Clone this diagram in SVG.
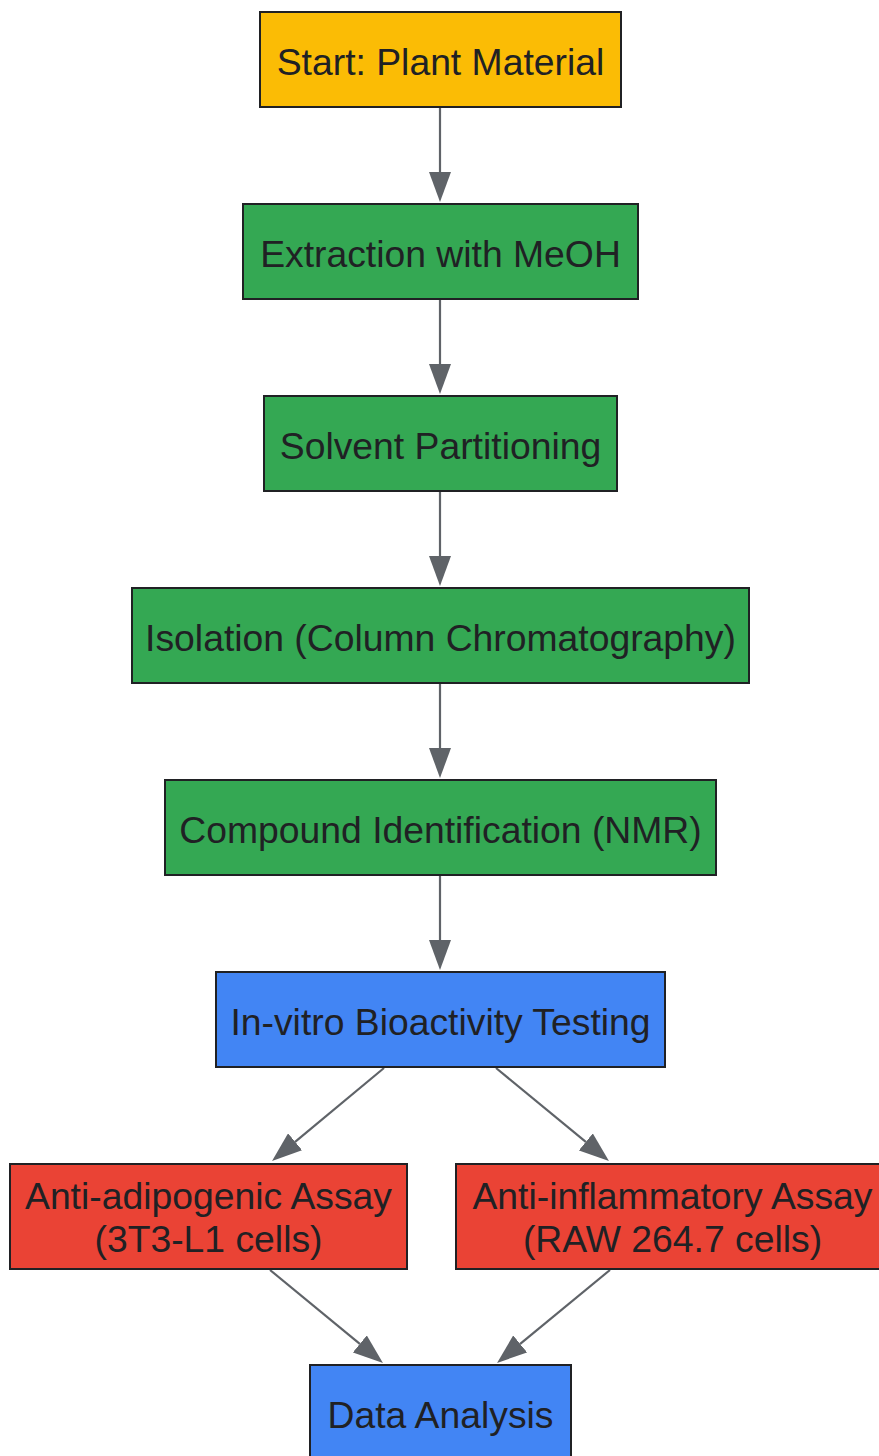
<svg xmlns="http://www.w3.org/2000/svg" width="879" height="1456" viewBox="0 0 879 1456">
<style>
.node rect{stroke:#202124;stroke-width:2}
.node text{font-family:"Liberation Sans",Arial,sans-serif;font-size:37.3px;fill:#202124;text-anchor:middle}
.y{fill:#FBBC05}.g{fill:#34A853}.b{fill:#4285F4}.r{fill:#EA4335}
.edges line{stroke:#5F6368;stroke-width:2.2;marker-end:url(#ah)}
</style>
<defs>
<marker id="ah" viewBox="0 0 30 22" refX="0" refY="11" markerWidth="30" markerHeight="22" markerUnits="userSpaceOnUse" orient="auto">
<path d="M0,0 L30,11 L0,22 z" fill="#5F6368"/>
</marker>
</defs>
<rect width="879" height="1456" fill="#ffffff"/>
<g class="edges">
<line x1="440" y1="108" x2="440" y2="172"/>
<line x1="440" y1="300" x2="440" y2="364"/>
<line x1="440" y1="492" x2="440" y2="556"/>
<line x1="440" y1="684" x2="440" y2="748"/>
<line x1="440" y1="876" x2="440" y2="940"/>
<line x1="384" y1="1068" x2="295.1" y2="1141.8"/>
<line x1="496" y1="1068" x2="585.8" y2="1141.9"/>
<line x1="270" y1="1270" x2="359.8" y2="1343.9"/>
<line x1="610" y1="1270" x2="520.2" y2="1343.9"/>
</g>
<g id="start" class="node"><rect class="y" x="260" y="12" width="361" height="95"/><text x="440.5" y="75">Start: Plant Material</text></g>
<g id="extraction" class="node"><rect class="g" x="243" y="204" width="395" height="95"/><text x="440.5" y="267">Extraction with MeOH</text></g>
<g id="partition" class="node"><rect class="g" x="264" y="396" width="353" height="95"/><text x="440.5" y="459">Solvent Partitioning</text></g>
<g id="isolation" class="node"><rect class="g" x="132" y="588" width="617" height="95"/><text x="440.5" y="651">Isolation (Column Chromatography)</text></g>
<g id="identification" class="node"><rect class="g" x="165" y="780" width="551" height="95"/><text x="440.5" y="843">Compound Identification (NMR)</text></g>
<g id="bioactivity" class="node"><rect class="b" x="216" y="972" width="449" height="95"/><text x="440.5" y="1035">In-vitro Bioactivity Testing</text></g>
<g id="adipogenic" class="node"><rect class="r" x="10" y="1164" width="397" height="105"/><text x="208.5" y="1209">Anti-adipogenic Assay</text><text x="208.5" y="1252">(3T3-L1 cells)</text></g>
<g id="inflammatory" class="node"><rect class="r" x="456" y="1164" width="433" height="105"/><text x="672.5" y="1209">Anti-inflammatory Assay</text><text x="672.5" y="1252">(RAW 264.7 cells)</text></g>
<g id="analysis" class="node"><rect class="b" x="310" y="1365" width="261" height="95"/><text x="440.5" y="1428">Data Analysis</text></g>
</svg>
